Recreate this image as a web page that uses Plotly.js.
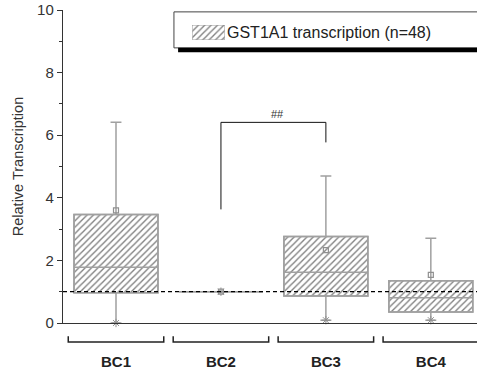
<!DOCTYPE html>
<html><head><meta charset="utf-8">
<script src="https://cdn.plot.ly/plotly-3.0.1.min.js"></script>
<style>html,body{margin:0;padding:0;background:#fff}</style>
</head><body><div id="chart" style="width:477px;height:371px"></div>
<script>
// Data
const categories = ['BC1','BC2','BC3','BC4'];
const xpos = [1,2,3,4];
const q1 = [0.97, 1.0, 0.86, 0.35];
const median = [1.78, 1.0, 1.62, 0.81];
const q3 = [3.47, 1.0, 2.76, 1.35];
const lowerWhisker = [0.0, 1.0, 0.09, 0.09];
const upperWhisker = [6.41, 1.0, 4.70, 2.71];
const means = [3.6, 1.0, 2.33, 1.54];
const legendLabel = 'GST1A1 transcription (n=48)';
const refLevel = 1;
const sigPair = [2, 3];
const sigLeftBottom = 3.63, sigTop = 6.41, sigRightBottom = 5.77;
const sigText = '##';

const gray = '#a0a0a0';
const hatch = {shape:'/', fgcolor:'#808080', bgcolor:'#ffffff', size:4.5, solidity:0.3};

const traces = [
  {type:'bar', x:xpos, base:q1, y:q3.map((v,i)=>v-q1[i]), width:0.8,
   marker:{color:'#ffffff', pattern:hatch, line:{color:gray, width:1.5}},
   showlegend:false, hoverinfo:'skip'},
  {type:'box', x:xpos, q1:q1, median:median, q3:q3, lowerfence:lowerWhisker, upperfence:upperWhisker,
   width:0.8, whiskerwidth:0.13, fillcolor:'rgba(0,0,0,0)', line:{color:gray, width:1.5},
   boxpoints:false, showlegend:false},
  {type:'scatter', mode:'markers', x:xpos, y:means,
   marker:{symbol:'square-open', size:5, color:'#909090', line:{width:1.2}}, showlegend:false},
  {type:'scatter', mode:'markers', x:xpos, y:lowerWhisker,
   marker:{symbol:'asterisk-open', size:7, color:'#909090', line:{width:1}}, showlegend:false, cliponaxis:false},
  // legend swatch
  {type:'bar', x:[0], y:[1], width:1, xaxis:'x2', yaxis:'y2',
   marker:{color:'#ffffff', pattern:hatch, line:{color:gray, width:1}}, showlegend:false, hoverinfo:'skip'}
];

const shapes = [
  // legend frame and shadow
  {type:'rect', xref:'paper', yref:'paper', x0:0.268, x1:1.1, y0:0.879, y1:0.994,
   line:{color:'#444', width:1}, fillcolor:'#fff', layer:'below'},
  {type:'rect', xref:'paper', yref:'paper', x0:0.278, x1:1.1, y0:0.865, y1:0.879,
   line:{width:0}, fillcolor:'#000'},
  // reference dashed line
  {type:'line', xref:'paper', yref:'y', x0:0, x1:1, y0:refLevel, y1:refLevel,
   line:{color:'#000', width:1.2, dash:'4px,3px'}},
  // significance bracket
  {type:'path', xref:'x', yref:'y',
   path:`M${sigPair[0]},${sigLeftBottom} L${sigPair[0]},${sigTop} L${sigPair[1]},${sigTop} L${sigPair[1]},${sigRightBottom}`,
   line:{color:'#111', width:1}}
];
// category brackets under the axis
xpos.forEach(c=>{
  shapes.push({type:'path', xref:'x', yref:'paper',
    path:`M${c-0.455},-0.042 L${c-0.455},-0.061 L${c+0.455},-0.061 L${c+0.455},-0.042`,
    line:{color:'#222', width:1.5}});
});

const layout = {
  width:477, height:371,
  margin:{l:63, r:0, t:10, b:48},
  paper_bgcolor:'#fff', plot_bgcolor:'rgba(0,0,0,0)',
  font:{family:'Arial, "Liberation Sans", sans-serif', color:'#333'},
  barmode:'overlay',
  xaxis:{range:[0.495,4.44], tickvals:xpos, ticktext:categories.map(c=>'<b>'+c+'</b>'),
    ticks:'', showgrid:false, zeroline:false, showline:true, linecolor:'#333', linewidth:1.2,
    tickfont:{size:15, color:'#222'}, ticklabelstandoff:25},
  yaxis:{range:[0,10], dtick:2, ticks:'outside', ticklen:5, tickcolor:'#333', tickwidth:1,
    minor:{dtick:1, ticks:'outside', ticklen:3, tickcolor:'#333'},
    showgrid:false, zeroline:false, showline:true, linecolor:'#333', linewidth:1.2,
    tickfont:{size:15, color:'#333'},
    title:{text:'Relative Transcription', font:{size:14.5, color:'#333'}, standoff:10}},
  xaxis2:{domain:[0.312,0.391], range:[-0.5,0.5], visible:false, fixedrange:true},
  yaxis2:{domain:[0.904,0.952], range:[0,1], visible:false, fixedrange:true, anchor:'x2'},
  shapes:shapes,
  annotations:[
    {xref:'x', yref:'y', x:(sigPair[0]+sigPair[1])/2+0.04, y:sigTop, yanchor:'bottom', text:sigText,
     showarrow:false, font:{size:11, color:'#333'}},
    {xref:'paper', yref:'paper', x:0.392, y:0.928, xanchor:'left', yanchor:'middle', text:legendLabel,
     showarrow:false, font:{size:16, color:'#222'}}
  ],
  showlegend:false
};
Plotly.newPlot('chart', traces, layout, {displayModeBar:false, staticPlot:true});
</script></body></html>
